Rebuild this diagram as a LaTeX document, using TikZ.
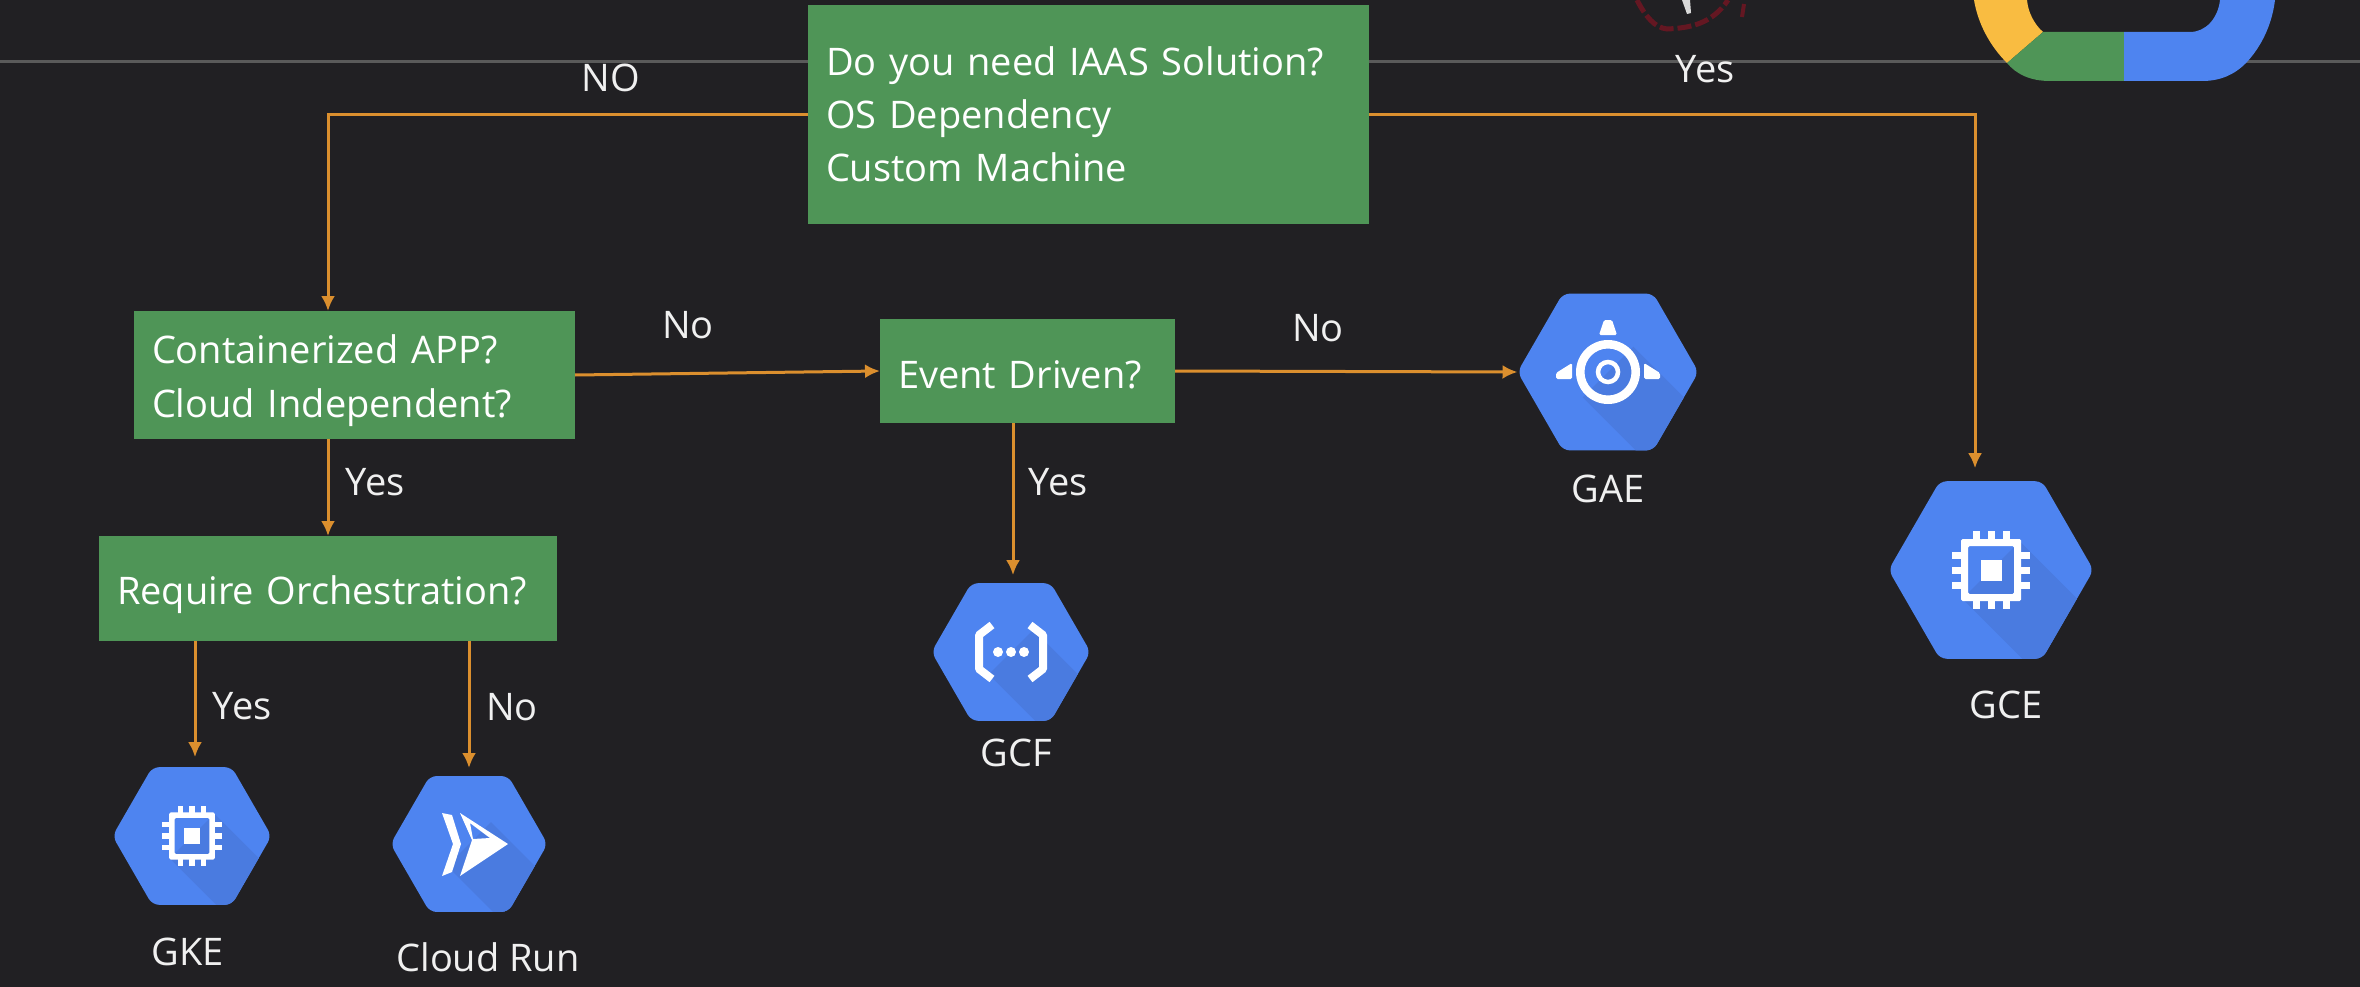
\documentclass[tikz,border=0pt]{standalone}
\usepackage{fontspec}
\setmainfont{Open Sans}
\usetikzlibrary{arrows.meta,positioning,shapes.geometric}
\definecolor{bgdark}{HTML}{212023}
\definecolor{ggreen}{HTML}{4F9557}
\definecolor{gblue}{HTML}{4E84F0}
\definecolor{gshade}{HTML}{4A7BE0}
\definecolor{gyellow}{HTML}{F9BC41}
\definecolor{linkorange}{HTML}{DB8F2E}
\definecolor{rulegray}{HTML}{5A5A5A}
\definecolor{penred}{HTML}{641722}
\tikzset{
  qbox/.style   = {fill=ggreen, text=white, font=\fontsize{38}{53}\selectfont, align=left, inner sep=0pt, outer sep=0pt, inner xsep=18pt},
  lbl/.style    = {text=white!94!black, font=\fontsize{38}{44}\selectfont, inner sep=0pt},
  line/.style   = {-{Latex[length=15pt,width=14pt]}, line width=3pt, linkorange},
  hexicon/.style = {regular polygon, regular polygon sides=6, minimum size=#1pt, inner sep=0pt, outer sep=0pt, fill=gblue, rounded corners=7pt,
    path picture={\fill[gshade,sharp corners] ([shift={(0.14*#1,-0.14*#1)}]path picture bounding box.center) -- ++(0.7*#1,0.7*#1) -- ++(-0.28*#1,0.28*#1) -- ++(-0.7*#1,-0.7*#1) -- cycle;}},
  chipicon/.pic = {
    \fill[white,even odd rule,rounded corners=1.5pt] (-30,-31) rectangle (30,31) (-23,-24) rectangle (23,24);
    \fill[white] (-10.5,-10.5) rectangle (10.5,10.5);
    \foreach \p in {-15,0,15} {
      \fill[white] (\p-3.5,-39) rectangle (\p+3.5,-29);
      \fill[white] (\p-3.5,29) rectangle (\p+3.5,39);
      \fill[white] (-39,\p-3.5) rectangle (-29,\p+3.5);
      \fill[white] (29,\p-3.5) rectangle (39,\p+3.5);
    }
  },
  appicon/.pic = {
    \fill[white,even odd rule] (0,0) circle (32) (0,0) circle (23.5);
    \draw[white,line width=4.5pt] (0,0) circle (10);
    \fill[white,rounded corners=1.5pt] (-9,-37) -- (9,-37) -- (4,-52) -- (-4,-52) -- cycle;
    \fill[white,rounded corners=1.5pt] (-36,-9) -- (-36,7) -- (-52,7) -- (-52,1) -- cycle;
    \fill[white,rounded corners=1.5pt] (36,-9) -- (36,7) -- (52,7) -- (52,1) -- cycle;
  },
  funcicon/.pic = {
    \draw[white,line width=8pt,line join=round] (-19,-27) -- (-32,-17) -- (-32,17) -- (-19,27);
    \draw[white,line width=8pt,line join=round] (19,-27) -- (32,-17) -- (32,17) -- (19,27);
    \foreach \p in {-13,0,13} \fill[white] (\p,0) circle (5);
  },
  runicon/.pic = {
    \fill[white] (-27,-31) -- (-17,-29) -- (-8,0) -- (-17,28) -- (-27,32) -- (-16,0) -- cycle;
    \fill[white,even odd rule] (-9,-31) -- (39,0) -- (-9,32) -- (3,-4) -- cycle (1,-21) -- (21,-6) -- (4,-5) -- cycle;
  },
}
\begin{document}
\begin{tikzpicture}[x=1pt,y=-1pt]
    \useasboundingbox (0,0) rectangle (2360,987);
    \fill[bgdark] (0,0) rectangle (2360,987);
    \draw[rulegray,line width=3pt] (0,62) -- (2360,62);
    % logo and pen mark at the top edge
    \fill[gyellow] (1974,0) .. controls (1978,24) and (1990,46) .. (2007,63) -- (2043,32) .. controls (2034,24) and (2028,12) .. (2027,0) -- cycle;
    \fill[ggreen] (2007,63) .. controls (2016,74) and (2030,81) .. (2050,81) -- (2124,81) -- (2124,32) -- (2060,32) .. controls (2054,32) and (2048,32) .. (2043,32) -- cycle;
    \fill[gblue] (2124,32) -- (2190,32) .. controls (2206,32) and (2218,18) .. (2220,0) -- (2275,0) .. controls (2272,24) and (2262,46) .. (2246,63) .. controls (2234,75) and (2220,81) .. (2202,81) -- (2124,81) -- cycle;
    \draw[penred,line width=5pt,dash pattern=on 14pt off 4pt] (1637,0) .. controls (1645,16) and (1655,28) .. (1667,29) .. controls (1690,28) and (1712,24) .. (1728,0);
    \draw[penred,line width=4pt] (1744,4) -- (1742,17);
    \fill[white!85!black] (1682,0) -- (1690,0) -- (1691,13) -- (1687,14) -- cycle;
    % question boxes
    \node[qbox,minimum width=561pt,minimum height=219pt,text width=525pt] (iaas) at (1088.5,114.5) {Do you need IAAS Solution?\\OS Dependency\\Custom Machine};
    \node[qbox,minimum width=441pt,minimum height=128pt,text width=405pt,text depth=52pt] (cont) at (354.5,375) {Containerized APP?\\[1pt]Cloud Independent?};
    \node[qbox,minimum width=295pt,minimum height=104pt,text width=259pt,text height=35pt,text depth=0pt] (event) at (1027.5,371) {Event Driven?};
    \node[qbox,minimum width=458pt,minimum height=105pt,text width=422pt,text height=31pt,text depth=0pt] (orch) at (328,588.5) {Require Orchestration?};
    % service hexagons
    \node[hexicon=181] (gae) at (1608,372) {};
    \node[hexicon=205] (gce) at (1991,570) {};
    \node[hexicon=159] (gcf) at (1011,652) {};
    \node[hexicon=159] (gke) at (192,836) {};
    \node[hexicon=157] (run) at (469,844) {};
    \pic at (gae) {appicon};
    \pic at (gce) {chipicon};
    \pic at (gcf) {funcicon};
    \pic[scale=0.76] at (gke) {chipicon};
    \pic at (run) {runicon};
    \node[lbl] (gaename) at (1608,489) {GAE};
    \node[lbl] (gcename) at (2006,705) {GCE};
    \node[lbl] (gcfname) at (1016,753) {GCF};
    \node[lbl] (gkename) at (188,952) {GKE};
    \node[lbl] (runname) at (488,957) {Cloud Run};
    % arrow ends above the hexagons
    \coordinate (gcetop) at ([xshift=-16pt,yshift=13pt]gce.north);
    \coordinate (gcftop) at ([xshift=2pt,yshift=8pt]gcf.north);
    \coordinate (gketop) at ([xshift=3pt,yshift=10pt]gke.north);
    \coordinate (runtop) at ([yshift=8pt]run.north);
    % connectors
    \draw[line] (iaas.west) -| (orch.north |- cont.north);
    \draw[line] (iaas.east) -| (gcetop);
    \draw[line] (cont.east) -- (event.west);
    \draw[line] (event.east) -- (gae.west);
    \draw[line] (cont.south -| orch.north) -- (orch.north);
    \draw[line] (event.south -| gcftop) -- (gcftop);
    \draw[line] (orch.south -| gketop) -- (gketop);
    \draw[line] (orch.south -| runtop) -- (runtop);
    % connector labels
    \node[lbl] (lno) at (611,78) {NO};
    \node[lbl] (lyes) at (1705,69) {Yes};
    \node[lbl] (lcont) at (688,325) {No};
    \node[lbl] (levent) at (1318,328) {No};
    \node[lbl] (lorch) at (375,482) {Yes};
    \node[lbl] (lfunc) at (1058,482) {Yes};
    \node[lbl] (lgke) at (242,706) {Yes};
    \node[lbl] (lrun) at (512,707) {No};
\end{tikzpicture}
\end{document}
